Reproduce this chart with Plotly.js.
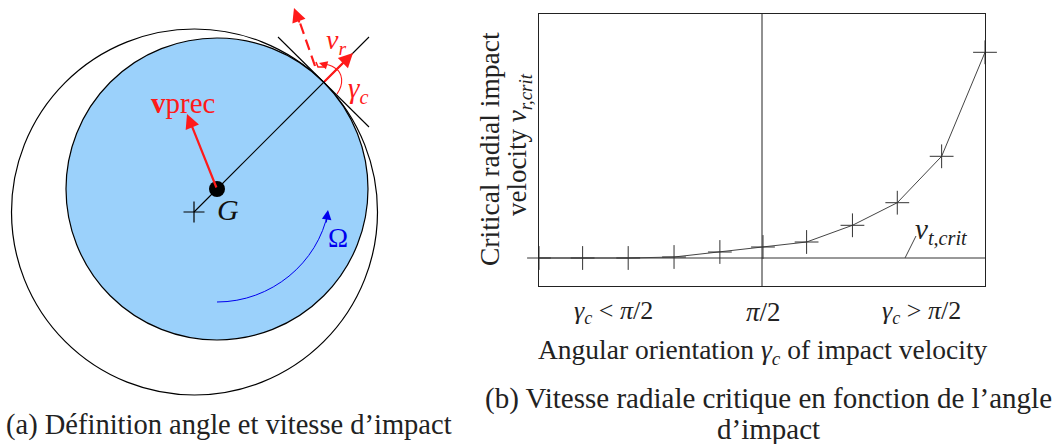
<!DOCTYPE html>
<html><head><meta charset="utf-8">
<script src="https://cdn.plot.ly/plotly-3.0.1.min.js"></script>
<style>html,body{margin:0;padding:0;background:#fff}#c{width:1056px;height:444px}</style>
</head><body><div id="c"></div>
<script>
// Panel (b) data
const angleDeg = [0,17.6,36,54.5,73,90.4,108,126.5,144.6,162.5,180];
const critVelocity = [0,0,0,1,6,11,16,32.7,55.3,101.7,205.7];
const tangentialLineX = [-3,180];
const tangentialLineY = [0,0];
const midLineX = [90,90];
const midLineY = [-28,244];
// Panel (a) geometry, in page units
const outerCircle = {cx:194.5, cy:212, r:183};
const discCircle = {cx:217, cy:189, r:151};
const radiusLineX = [194,369], radiusLineY = [212,37];
const tangentX = [278,369], tangentY = [37,127];
const dashedX = [315,299], dashedY = [66,20];
const centreCrossX = [194], centreCrossY = [212];
const gX = [217], gY = [189];
const FONT = "Liberation Serif";
const RED = "#ff1a1a", BLUE = "#0000ee", INK = "#222";

const traces = [
 {x:radiusLineX,y:radiusLineY,xaxis:'x',yaxis:'y',mode:'lines',line:{color:'#000',width:1.1}},
 {x:tangentX,y:tangentY,xaxis:'x',yaxis:'y',mode:'lines',line:{color:'#000',width:1.1}},
 {x:dashedX,y:dashedY,xaxis:'x',yaxis:'y',mode:'lines',line:{color:RED,width:2.2,dash:'11px,6px'}},
 {x:centreCrossX,y:centreCrossY,xaxis:'x',yaxis:'y',mode:'markers',marker:{symbol:'cross-thin',size:15,line:{color:'#000',width:1.2}}},
 {x:gX,y:gY,xaxis:'x',yaxis:'y',mode:'markers',marker:{symbol:'circle',size:16,color:'#000'}},
 {x:tangentialLineX,y:tangentialLineY,xaxis:'x2',yaxis:'y2',mode:'lines',cliponaxis:false,line:{color:'#333',width:1}},
 {x:midLineX,y:midLineY,xaxis:'x2',yaxis:'y2',mode:'lines',line:{color:'#222',width:1}},
 {x:angleDeg,y:critVelocity,xaxis:'x2',yaxis:'y2',mode:'lines+markers',cliponaxis:false,
  line:{color:'#444',width:1},
  marker:{symbol:'cross-thin',size:17,line:{color:'#333',width:1}}}
];

function note(x,y,text,size,color,extra){
 return Object.assign({x:x,y:y,xref:'x',yref:'y',text:text,showarrow:false,
   font:{family:FONT,size:size,color:color||INK},xanchor:'center',yanchor:'middle'},extra||{});
}
function arrow(x,y,ax,ay,color,w,s){
 return {x:x,y:y,ax:ax,ay:ay,xref:'x',yref:'y',axref:'x',ayref:'y',text:'',showarrow:true,
   arrowhead:2,arrowsize:s,arrowwidth:w,arrowcolor:color};
}
const annotations = [
 arrow(187,114,217,189,RED,2.2,1.3),
 arrow(353,53,323,83,RED,2.2,1.3),
 arrow(294,8,300,24,RED,2,1.4),
 arrow(328,210,326,224,BLUE,1.2,1.6),
 arrow(319,63,326,65,RED,1.2,1.4),
 note(183,103,"<b>v</b>prec",29,RED),
 note(336,41,"<i>v<sub>r</sub></i>",28,RED),
 note(358,90,"<i>γ<sub>c</sub></i>",29,RED),
 note(228,209,"<i>G</i>",30,'#111'),
 note(338,238,"Ω",27,BLUE),
 note(229,425,"(a) Définition angle et vitesse d’impact",28.5,'#222'),
 note(613,312,"<i>γ<sub>c</sub></i> &lt; <i>π</i>/2",26),
 note(763,312,"<i>π</i>/2",27),
 note(921,312,"<i>γ<sub>c</sub></i> &gt; <i>π</i>/2",26),
 note(763,351,"Angular orientation <i>γ<sub>c</sub></i> of impact velocity",27.5),
 note(768,398,"(b) Vitesse radiale critique en fonction de l’angle",29,'#222'),
 note(768,429,"d’impact",29,'#222'),
 note(489,149,"Critical radial impact",27.5,INK,{textangle:-90}),
 note(519,145,"velocity <i>v<sub>r,crit</sub></i>",27,INK,{textangle:-90}),
 note(941,231,"<i>v<sub>t,crit</sub></i>",29)
];
const shapes = [
 {type:'circle',xref:'x',yref:'y',x0:outerCircle.cx-outerCircle.r,x1:outerCircle.cx+outerCircle.r,
  y0:outerCircle.cy-outerCircle.r,y1:outerCircle.cy+outerCircle.r,line:{color:'#000',width:1.2},fillcolor:'#fff',layer:'below'},
 {type:'circle',xref:'x',yref:'y',x0:discCircle.cx-discCircle.r,x1:discCircle.cx+discCircle.r,
  y0:discCircle.cy-discCircle.r,y1:discCircle.cy+discCircle.r,line:{color:'#000',width:1.2},fillcolor:'#9bd1fb',layer:'below'},
 {type:'path',xref:'x',yref:'y',path:'M 217 302 C 271 302 318 263 328 212',line:{color:BLUE,width:1}},
 {type:'path',xref:'x',yref:'y',path:'M 337 94 C 344 84 343 73 335 68 C 331 65 326 64 321 64',line:{color:RED,width:1.1}},
 {type:'path',xref:'x',yref:'y',path:'M 316 62 L 318 67 L 325 67',line:{color:RED,width:1.5}},
 {type:'line',xref:'x',yref:'y',x0:916,y0:236,x1:905,y1:258,line:{color:'#444',width:1}}
];
const layout = {
 width:1056,height:444,margin:{l:0,r:0,t:0,b:0},showlegend:false,
 paper_bgcolor:'#fff',plot_bgcolor:'rgba(0,0,0,0)',
 xaxis:{domain:[0,1],range:[0,1056],visible:false,fixedrange:true},
 yaxis:{domain:[0,1],range:[444,0],visible:false,fixedrange:true},
 xaxis2:{domain:[539/1056,985/1056],range:[0,180],anchor:'y2',showline:true,mirror:true,linecolor:'#222',linewidth:1.3,
   showgrid:false,zeroline:false,showticklabels:false,ticks:''},
 yaxis2:{domain:[1-286/444,1-14/444],range:[-28,244],anchor:'x2',showline:true,mirror:true,linecolor:'#222',linewidth:1.3,
   showgrid:false,zeroline:false,showticklabels:false,ticks:''},
 annotations:annotations,shapes:shapes
};
Plotly.newPlot('c',traces,layout,{staticPlot:true,displayModeBar:false}).then(function(){
 document.querySelectorAll('#c svg text').forEach(function(t){ if(!t.textContent.trim()) t.remove(); });
});
</script></body></html>
